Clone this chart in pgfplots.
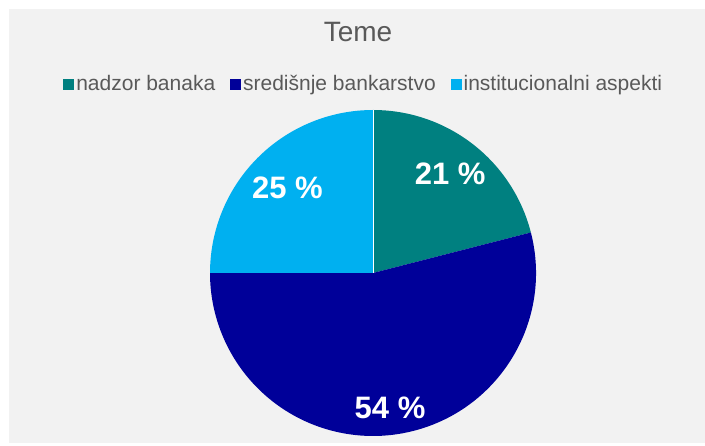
\documentclass[border=0pt]{standalone}
\usepackage{pgfplots}
\pgfplotsset{compat=1.18}
\usepackage{pgfplotstable}
\usetikzlibrary{calc}
\usepackage{fontspec}
\setmainfont{Liberation Sans}
\definecolor{cteal}{RGB}{0,128,128}
\definecolor{cdblue}{RGB}{0,0,153}
\definecolor{clblue}{RGB}{0,176,240}
\definecolor{bgc}{RGB}{242,242,242}
\definecolor{txtc}{RGB}{89,89,89}
\pgfplotstableread{
label value
nadzor 21
sredisnje 54
inst 25
}\piedata
\begin{document}%
\pgfplotstablegetelem{0}{value}\of\piedata\let\va\pgfplotsretval%
\pgfplotstablegetelem{1}{value}\of\piedata\let\vb\pgfplotsretval%
\pgfplotstablegetelem{2}{value}\of\piedata\let\vc\pgfplotsretval%
\pgfmathsetmacro\aA{90}%
\pgfmathsetmacro\aB{\aA-\va*3.6}%
\pgfmathsetmacro\aC{\aB-\vb*3.6}%
\pgfmathsetmacro\aD{\aC-\vc*3.6}%
\pgfmathsetmacro\mA{(\aA+\aB)/2}%
\pgfmathsetmacro\mB{(\aB+\aC)/2}%
\pgfmathsetmacro\mC{(\aC+\aD)/2}%
\begin{tikzpicture}
\begin{axis}[
  width=705pt, height=443pt, scale only axis,
  xmin=0, xmax=705, ymin=0, ymax=443,
  axis lines=none, clip=false,
  legend columns=3,
  legend style={at={(axis cs:364,359)}, anchor=center, draw=none, fill=none,
    font=\fontsize{21}{24}\selectfont, text=txtc,
    nodes={inner xsep=2.5pt, inner ysep=1pt},
    /tikz/every even column/.append style={column sep=12.5pt}},
]
\fill[white] (axis cs:0,0) rectangle (axis cs:705,443);
\fill[bgc] (axis cs:9,0) rectangle (axis cs:705,434);
\node[text=txtc, font=\fontsize{28}{32}\selectfont] at (axis cs:358,411) {Teme};
\def\cx{373}\def\cy{170}\def\R{163}
\fill[cteal] (axis cs:\cx,\cy) -- ++(\aA:\R pt) arc[start angle=\aA, end angle=\aB, radius=\R pt] -- cycle;
\fill[cdblue] (axis cs:\cx,\cy) -- ++(\aB:\R pt) arc[start angle=\aB, end angle=\aC, radius=\R pt] -- cycle;
\fill[clblue] (axis cs:\cx,\cy) -- ++(\aC:\R pt) arc[start angle=\aC, end angle=\aD, radius=\R pt] -- cycle;
\draw[white, line width=0.4pt] (axis cs:\cx,\cy) -- ++(\aA:\R pt);
\node[text=white, font=\fontsize{31}{34}\selectfont\bfseries] at ($(axis cs:\cx,\cy)+(\mA:126pt)$) {\va\ \%};
\node[text=white, font=\fontsize{31}{34}\selectfont\bfseries] at ($(axis cs:\cx,\cy)+(\mB:136pt)$) {\vb\ \%};
\node[text=white, font=\fontsize{31}{34}\selectfont\bfseries] at ($(axis cs:\cx,\cy)+(\mC:121pt)$) {\vc\ \%};
\addlegendimage{legend image code/.code={\fill[cteal] (0pt,-5pt) rectangle (10pt,5pt);}}
\addlegendentry{nadzor banaka}
\addlegendimage{legend image code/.code={\fill[cdblue] (0pt,-5pt) rectangle (10pt,5pt);}}
\addlegendentry{središnje bankarstvo}
\addlegendimage{legend image code/.code={\fill[clblue] (0pt,-5pt) rectangle (10pt,5pt);}}
\addlegendentry{institucionalni aspekti}
\end{axis}
\end{tikzpicture}%
\end{document}
